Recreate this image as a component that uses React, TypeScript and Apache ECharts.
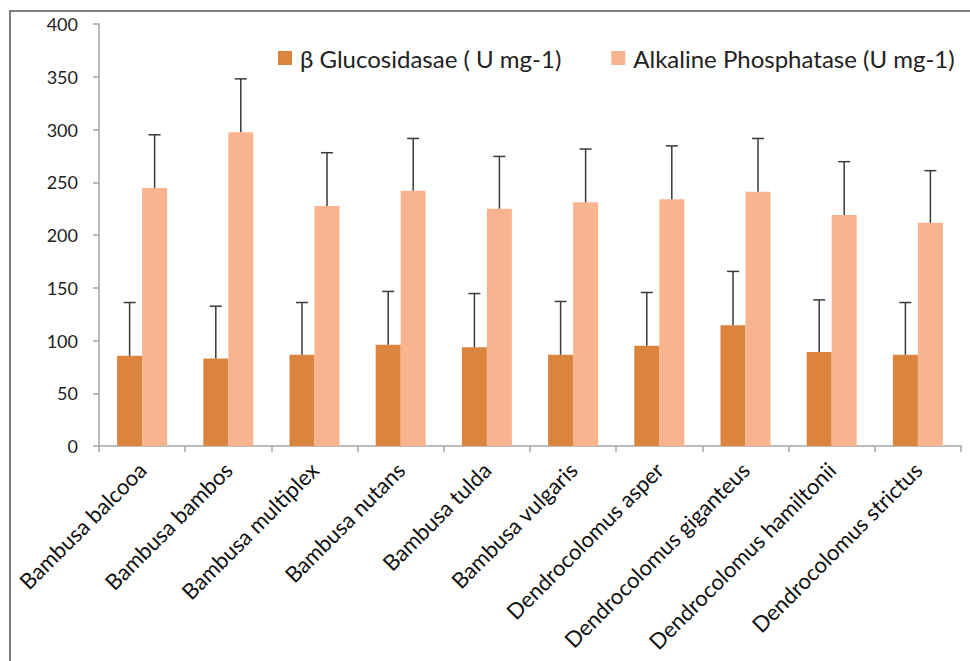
import React, { useEffect, useRef } from "react";
import * as echarts from "echarts";

const categories = [
  "Bambusa balcooa",
  "Bambusa bambos",
  "Bambusa multiplex",
  "Bambusa nutans",
  "Bambusa tulda",
  "Bambusa vulgaris",
  "Dendrocolomus asper",
  "Dendrocolomus giganteus",
  "Dendrocolomus hamiltonii",
  "Dendrocolomus strictus",
];
const glucosidase = [85.5, 83, 86.5, 96, 93.5, 86.5, 95, 114.5, 89, 86.5];
const glucosidaseErr = [50.5, 49.5, 49.5, 50.5, 51, 50.5, 50.5, 51, 49.5, 49.5];
const phosphatase = [244.5, 297.5, 227.5, 242, 225, 231, 234, 241, 219, 211.5];
const phosphataseErr = [50.5, 50.5, 50.5, 49.5, 49.5, 50.5, 50.5, 50.5, 50.5, 49.5];
const yTicks = { min: 0, max: 400, interval: 50 };

const seriesNames = ["β Glucosidasae ( U mg-1)", "Alkaline Phosphatase (U mg-1)"];
const colors = ["#DB843D", "#F8B48E"];
const CAT_GAP = 0.42;

function errorSeries(values: number[], errs: number[], sIdx: number) {
  return {
    type: "custom",
    name: "err" + sIdx,
    z: 10,
    silent: true,
    data: values.map((v, i) => [i, v, errs[i]]),
    renderItem: (params: any, api: any) => {
      const i = api.value(0);
      const v = api.value(1);
      const e = api.value(2);
      const cw = api.size([1, 0])[0];
      const bw = (cw * (1 - CAT_GAP)) / 2;
      const off = sIdx === 0 ? -bw / 2 : bw / 2;
      const p0 = api.coord([i, v]);
      const p1 = api.coord([i, v + e]);
      const x = p0[0] + off;
      const style = { stroke: "#3a3a3a", lineWidth: 1.5, fill: null };
      return {
        type: "group",
        children: [
          { type: "line", shape: { x1: x, y1: p0[1], x2: x, y2: p1[1] }, style },
          { type: "line", shape: { x1: x - 6, y1: p1[1], x2: x + 6, y2: p1[1] }, style },
        ],
      };
    },
  };
}

export default function App() {
  const ref = useRef<HTMLDivElement>(null);
  useEffect(() => {
    document.body.style.margin = "0";
    const chart = echarts.init(ref.current!, null, { renderer: "svg" });
    chart.setOption({
      animation: false,
      backgroundColor: "#ffffff",
      textStyle: { fontFamily: "Lato" },
      grid: { left: 99, right: 9, top: 24, bottom: 215, containLabel: false },
      legend: {
        data: seriesNames,
        top: 41,
        left: 273,
        itemWidth: 14,
        itemHeight: 14,
        itemGap: 50,
        icon: "rect",
        textStyle: { fontSize: 24, color: "#222", fontFamily: "Lato", padding: [0, 0, 0, 3] },
      },
      graphic: [
        {
          type: "rect",
          shape: { x: 10, y: 11, width: 1000, height: 700 },
          style: { fill: null, stroke: "#555", lineWidth: 1.5 },
          silent: true,
        },
      ],
      xAxis: {
        type: "category",
        data: categories,
        axisLine: { lineStyle: { color: "#a6a6a6", width: 1.5 } },
        axisTick: { show: true, length: 6, lineStyle: { color: "#a6a6a6", width: 1.5 } },
        axisLabel: {
          rotate: 45,
          interval: 0,
          fontSize: 22,
          color: "#111",
          margin: 20,
          fontFamily: "Lato",
        },
      },
      yAxis: {
        type: "value",
        min: yTicks.min,
        max: yTicks.max,
        interval: yTicks.interval,
        splitLine: { show: false },
        axisLine: { show: true, lineStyle: { color: "#a6a6a6", width: 1.5 } },
        axisTick: { show: true, length: 6, lineStyle: { color: "#a6a6a6", width: 1.5 } },
        axisLabel: { fontSize: 18, color: "#222", margin: 21, fontFamily: "Lato" },
      },
      series: [
        {
          type: "bar",
          name: seriesNames[0],
          data: glucosidase,
          itemStyle: { color: colors[0] },
          barGap: "0%",
          barCategoryGap: CAT_GAP * 100 + "%",
        },
        {
          type: "bar",
          name: seriesNames[1],
          data: phosphatase,
          itemStyle: { color: colors[1] },
          barGap: "0%",
          barCategoryGap: CAT_GAP * 100 + "%",
        },
        errorSeries(glucosidase, glucosidaseErr, 0),
        errorSeries(phosphatase, phosphataseErr, 1),
      ],
    });
    return () => chart.dispose();
  }, []);
  return <div ref={ref} style={{ width: 970, height: 661 }} />;
}
